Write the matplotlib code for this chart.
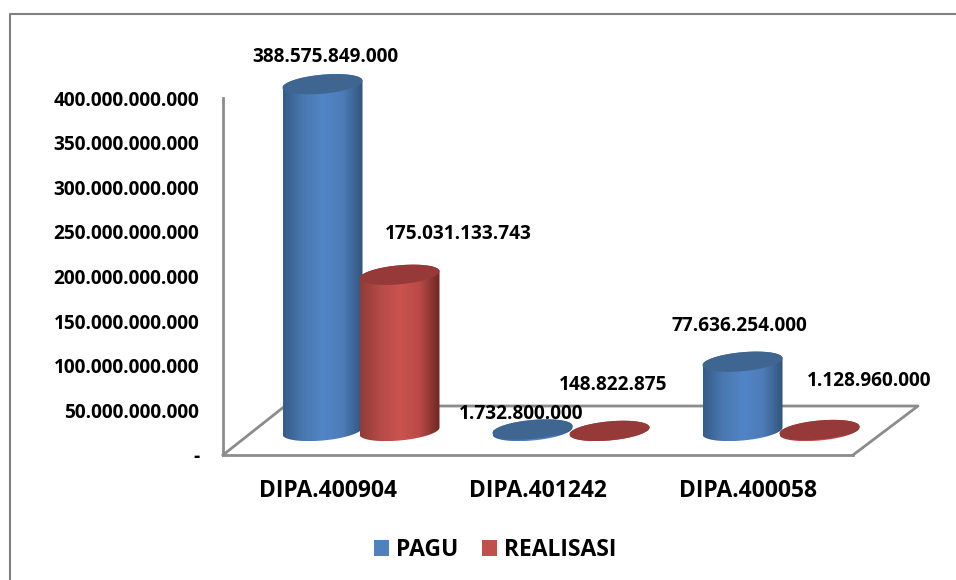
import numpy as np
import matplotlib
matplotlib.use("Agg")
import matplotlib.pyplot as plt
from matplotlib.colors import LinearSegmentedColormap
from matplotlib.lines import Line2D
from matplotlib.patches import Patch, Polygon

plt.rcParams['font.family'] = ['Open Sans', 'DejaVu Sans']
plt.rcParams['font.weight'] = 'bold'

# data
categories = ["DIPA.400904", "DIPA.401242", "DIPA.400058"]
pagu = [388575849000, 1732800000, 77636254000]
realisasi = [175031133743, 148822875, 1128960000]
y_ticks = [0, 50e9, 100e9, 150e9, 200e9, 250e9, 300e9, 350e9, 400e9]
y_labels = ["-", "50.000.000.000", "100.000.000.000", "150.000.000.000", "200.000.000.000",
            "250.000.000.000", "300.000.000.000", "350.000.000.000", "400.000.000.000"]
pagu_labels = ["388.575.849.000", "1.732.800.000", "77.636.254.000"]
realisasi_labels = ["175.031.133.743", "148.822.875", "1.128.960.000"]

W, H = 956, 580
fig = plt.figure(figsize=(W / 100, H / 100), dpi=100)
ax = fig.add_axes([223 / W, 1 - 455 / H, 630 / W, 357 / H])
ax.set_xlim(-0.5, 2.5)
ax.set_ylim(0, 400e9)

# pixel sizes of the fake 3d
px_x = 3 / 630
px_y = 400e9 / 357
depth_x, depth_y = 33, 24
half_w, half_h, tilt = 40, 9.5, 3.5
offset = 38.5
grey = "#8c8c8c"

for s in ["top", "right"]:
    ax.spines[s].set_visible(False)
for s in ["left", "bottom"]:
    ax.spines[s].set_color(grey)
    ax.spines[s].set_linewidth(2)

ax.set_xticks(range(3), categories, fontsize=16.5)
ax.set_yticks(y_ticks, y_labels, fontsize=13.7)
ax.tick_params(axis='x', length=0, pad=17)
ax.tick_params(axis='y', length=0, pad=17)

# floor
x0, x1 = ax.get_xlim()
floor_x = [x1, x1 + 65 * px_x, x0 + 62 * px_x, x0]
floor_y = [0, 49 * px_y, 49 * px_y, 0]
ax.plot(floor_x, floor_y, color=grey, lw=2, clip_on=False, zorder=1)

blue_cm = LinearSegmentedColormap.from_list("b", ["#365c88", "#4a78b0", "#5285c6", "#4d7cb8", "#33547a"])
red_cm = LinearSegmentedColormap.from_list("r", ["#8f3b39", "#b54a47", "#cb5350", "#b84a47", "#6b2725"])
grad = np.linspace(0, 1, 256).reshape(1, -1)


def cylinder(cx, value, cmap, top_color, z):
    cx = cx + depth_x * px_x
    base = depth_y * px_y
    t_low = np.linspace(np.pi, 2 * np.pi, 60)
    t_up = np.linspace(0, np.pi, 60)
    xs = cx + half_w * px_x * np.cos(t_low)
    ys = base + (half_h * np.sin(t_low) + tilt * np.cos(t_low)) * px_y
    xu = cx + half_w * px_x * np.cos(t_up)
    yu = value + base + (half_h * np.sin(t_up) + tilt * np.cos(t_up)) * px_y
    body = Polygon(np.column_stack([np.r_[xs, xu], np.r_[ys, yu]]), closed=True,
                   fc="none", ec="none", transform=ax.transData, clip_on=False)
    ax.add_patch(body)
    im = ax.imshow(grad, cmap=cmap, aspect='auto', zorder=z,
                   extent=[cx - half_w * px_x, cx + half_w * px_x, ys.min(), yu.max()])
    im.set_clip_path(body)
    im.set_clip_box(fig.bbox)
    t = np.linspace(0, 2 * np.pi, 120)
    top = Polygon(np.column_stack([cx + half_w * px_x * np.cos(t),
                                   value + base + (half_h * np.sin(t) + tilt * np.cos(t)) * px_y]),
                  closed=True, fc=top_color, ec="none", clip_on=False, zorder=z + 0.1)
    ax.add_patch(top)
    return cx, value + base


pagu_offsets = [(3, 27), (-11, 15), (-3, 36)]
real_offsets = [(59, 41), (4, 46), (50, 49)]

for i in range(3):
    c, v = cylinder(i - offset * px_x, pagu[i], blue_cm, "#3f6691", 2 + i)
    ax.annotate(pagu_labels[i], (c, v), xytext=(pagu_offsets[i][0] * 0.72, pagu_offsets[i][1] * 0.72),
                textcoords='offset points', ha='center', va='center', fontsize=13.7, zorder=10,
                annotation_clip=False)
    c, v = cylinder(i + offset * px_x, realisasi[i], red_cm, "#953a38", 2.5 + i)
    ax.annotate(realisasi_labels[i], (c, v), xytext=(real_offsets[i][0] * 0.72, real_offsets[i][1] * 0.72),
                textcoords='offset points', ha='center', va='center', fontsize=13.7, zorder=10,
                annotation_clip=False)

ax.set_xlim(-0.5, 2.5)
ax.set_ylim(0, 400e9)

handles = [Patch(fc="#4f81bd", label="PAGU"), Patch(fc="#c0504d", label="REALISASI")]
fig.legend(handles=handles, loc='center', bbox_to_anchor=(495 / W, 1 - 550 / H), ncol=2, frameon=False,
           fontsize=16.5, handlelength=0.65, handleheight=0.65, handletextpad=0.3, columnspacing=1.05)

# outer frame: only top and left show in the image
fig.add_artist(Line2D([1, 10 / W, 10 / W], [1 - 14 / H, 1 - 14 / H, 0], transform=fig.transFigure,
                      color="#808080", lw=1.5))

fig.savefig("out.png", dpi=100)
